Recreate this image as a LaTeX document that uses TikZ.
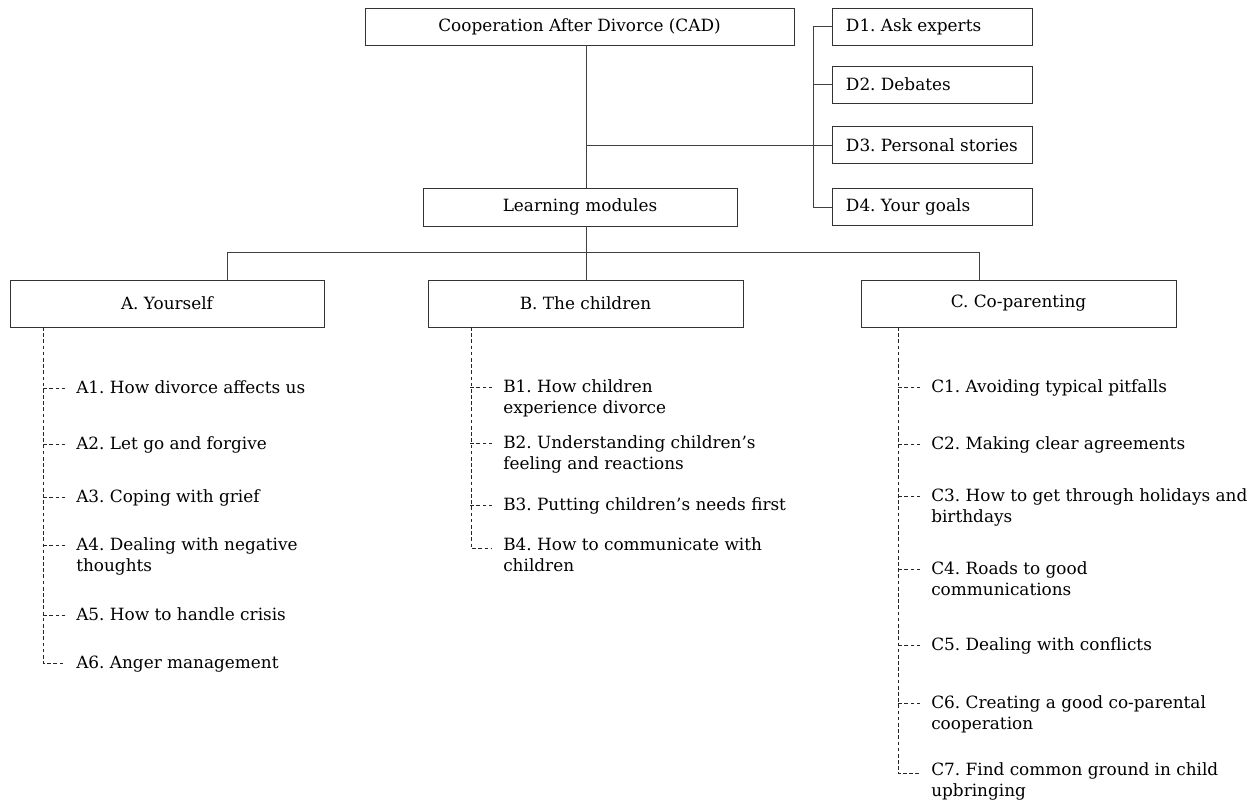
\documentclass[tikz,border=0pt]{standalone}
\usepackage{fontspec}
\setmainfont{DejaVu Serif}
\newcommand{\txtsize}{\fontsize{12}{15.4}\selectfont\frenchspacing}
\tikzset{
	box/.style={draw=black!80, line width=0.6pt, inner sep=0pt, font=\txtsize},
	topic/.style={box, align=flush left, text width=4.3cm, inner xsep=0.35cm,
		minimum height=0.925cm},
	item/.style={anchor=base west, align=flush left, text width=8.5cm,
		inner sep=0pt, font=\txtsize},
	link/.style={draw=black!75, line width=0.6pt},
	tick/.style={draw=black!85, line width=0.65pt, dash pattern=on 2.6pt off 1.8pt}
}
\begin{document}
\begin{tikzpicture}[x=0.025cm, y=-0.025cm]
	\useasboundingbox (0,0) rectangle (1259,802);
	% Kopf
	\node[
		box,
		minimum width=10.725cm,
		minimum height=0.925cm
	] (cad) at (579.5,26.5) {Cooperation After Divorce (CAD)};
	\node[
		box,
		minimum width=7.85cm,
		minimum height=0.95cm
	] (lm) at (580,207) {Learning modules};
	% Rubriken D
	\node[topic] (d1) at (932,26.5) {D1. Ask experts};
	\node[topic] (d2) at (932,84.5) {D2. Debates};
	\node[topic] (d3) at (932,145) {D3. Personal stories};
	\node[topic] (d4) at (932,207) {D4. Your goals};
	% Module
	\node[
		box,
		minimum width=7.85cm,
		minimum height=1.175cm
	] (ayou) at (167,303.5) {A. Yourself};
	\node[
		box,
		minimum width=7.875cm,
		minimum height=1.175cm
	] (bchild) at (585.5,303.5) {B. The children};
	\node[
		box,
		minimum width=7.875cm,
		minimum height=1.175cm
	] (ccop) at (1018.5,303.5) {C. Co-parenting};
	% Hilfspunkte
	\coordinate (hub) at (586,145);
	\coordinate (brk) at (813,145);
	\coordinate (bar) at (586,252);
	\coordinate (dropA) at (227,252);
	\coordinate (dropC) at (979,252);
	\coordinate (spA) at (43,327);
	\coordinate (spB) at (471,327);
	\coordinate (spC) at (898,327);
	% Verbindungen oben
	\draw[link] (cad.south -| hub) -- (lm.north -| hub);
	\draw[link] (hub) -- (d3.west);
	\draw[link] (d1.west) -| (brk |- d4.west) -- (d4.west);
	\draw[link] (d2.west) -- (brk |- d2.west);
	\draw[link] (lm.south -| bar) -- (bar);
	\draw[link] (ayou.north -| dropA) -- (dropA) -- (dropC) -- (ccop.north -| dropC);
	\draw[link] (bar) -- (bchild.north -| bar);
	% Punkte A
	\node[item] (a1) at (76,393) {A1. How divorce affects us};
	\node[item] (a2) at (76,449) {A2. Let go and forgive};
	\node[item] (a3) at (76,502) {A3. Coping with grief};
	\node[item] (a4) at (76,550) {A4. Dealing with negative\\thoughts};
	\node[item] (a5) at (76,620) {A5. How to handle crisis};
	\node[item] (a6) at (76,668) {A6. Anger management};
	% Punkte B
	\node[item] (b1) at (503,392) {B1. How children\\experience divorce};
	\node[item] (b2) at (503,448) {B2. Understanding children’s\\feeling and reactions};
	\node[item] (b3) at (503,510) {B3. Putting children’s needs first};
	\node[item] (b4) at (503,550) {B4. How to communicate with\\children};
	% Punkte C
	\node[item] (c1) at (931,392) {C1. Avoiding typical pitfalls};
	\node[item] (c2) at (931,449) {C2. Making clear agreements};
	\node[item] (c3) at (931,501) {C3. How to get through holidays and\\birthdays};
	\node[item] (c4) at (931,574) {C4. Roads to good\\communications};
	\node[item] (c5) at (931,650) {C5. Dealing with conflicts};
	\node[item] (c6) at (931,708) {C6. Creating a good co-parental\\cooperation};
	\node[item] (c7) at (931,775) {C7. Find common ground in child\\upbringing};
	% gestrichelte Äste
	\foreach \n in {a1,a2,a3,a4,a5,b1,b2,b3,c1,c2,c3,c4,c5,c6}
		\draw[tick] ([xshift=-7.5pt,yshift=3.5pt]\n.base west) -- ++(-22,0);
	\draw[tick] (spA) |- ([xshift=-7.5pt,yshift=3.5pt]a6.base west);
	\draw[tick] (spB) |- ([xshift=-7.5pt,yshift=1pt]b4.base west);
	\draw[tick] (spC) |- ([xshift=-7.5pt,yshift=1pt]c7.base west);
\end{tikzpicture}
\end{document}
